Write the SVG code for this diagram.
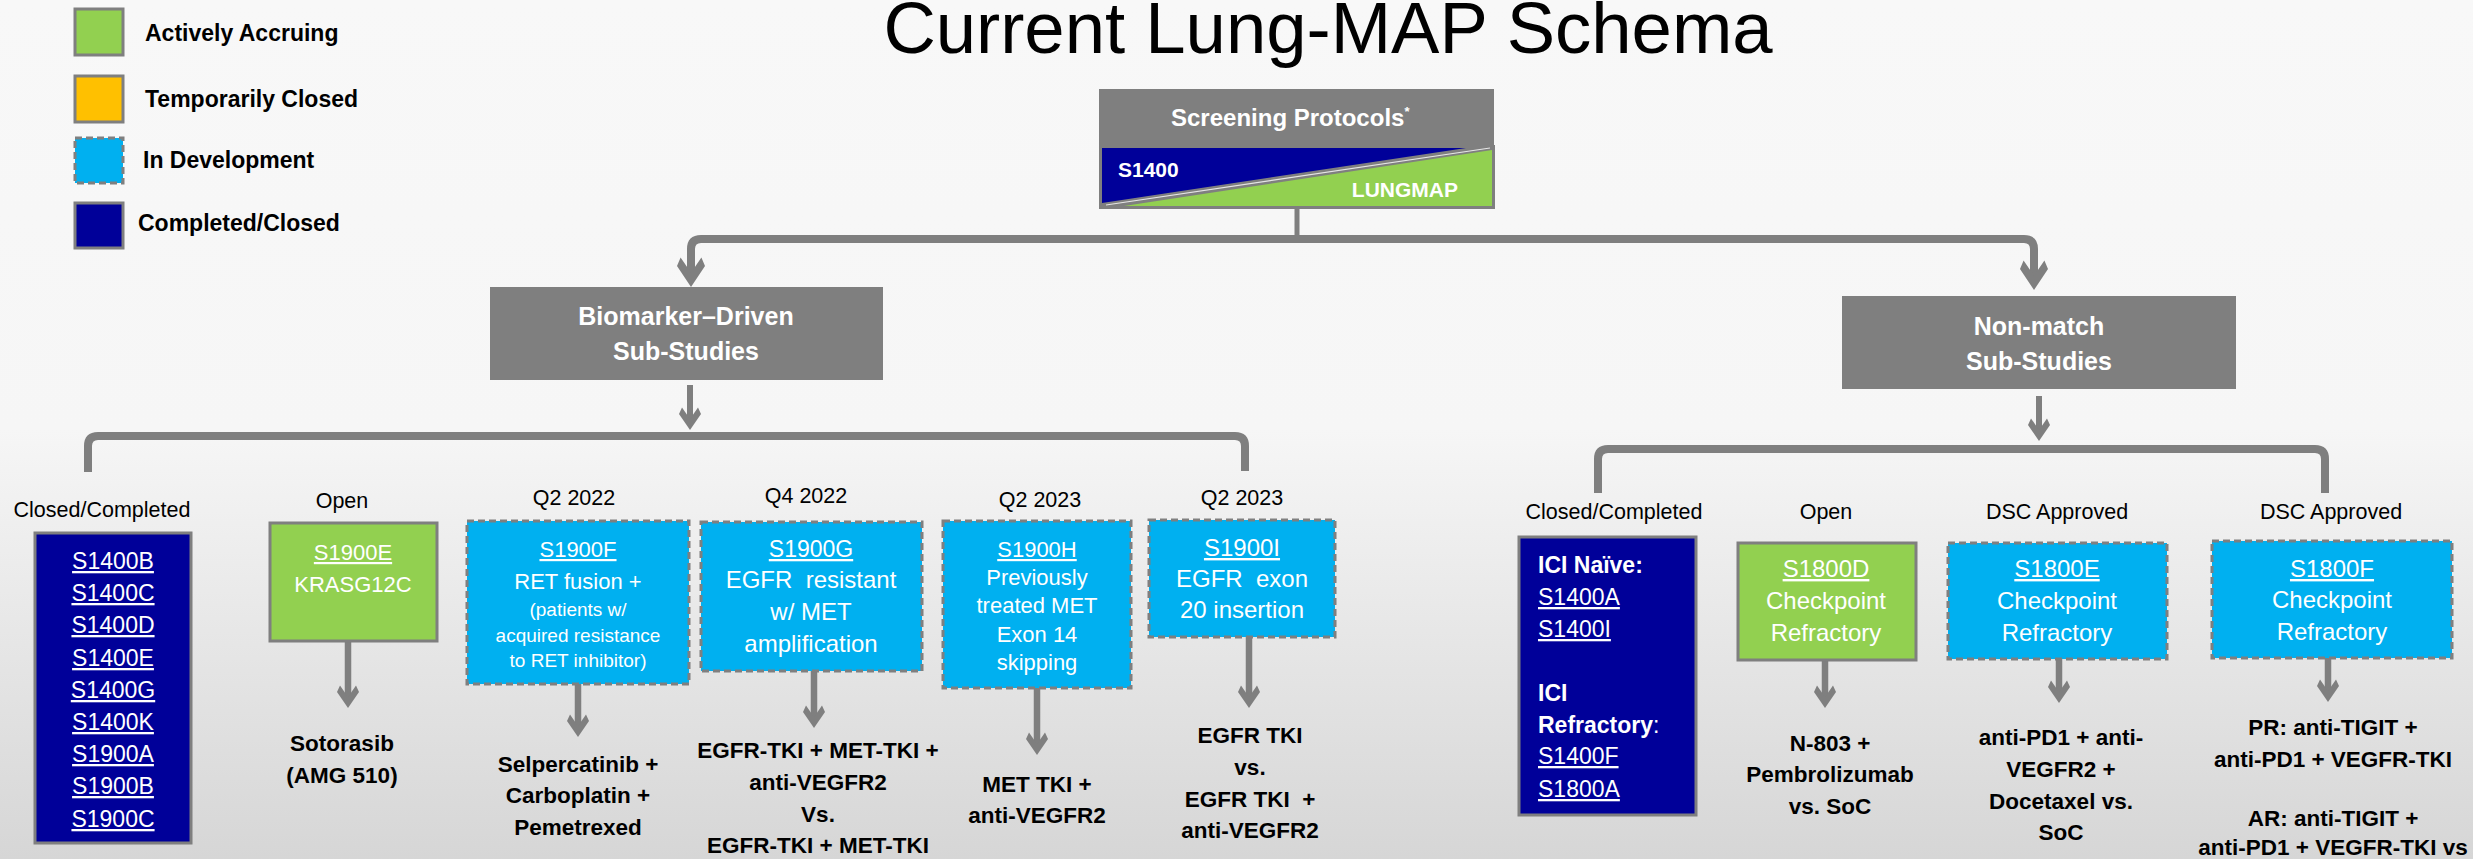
<svg xmlns="http://www.w3.org/2000/svg" width="2473" height="859" viewBox="0 0 2473 859">
<defs>
<linearGradient id="bg" x1="0" y1="0" x2="0" y2="1">
<stop offset="0" stop-color="#f8f8f8"/>
<stop offset="0.5" stop-color="#f6f6f6"/>
<stop offset="1" stop-color="#d6d6d6"/>
</linearGradient>
<marker id="ah" markerUnits="userSpaceOnUse" orient="auto" refX="0" refY="0" markerWidth="40" markerHeight="40" overflow="visible">
<path d="M10,0 L-6,-11 L-12.6,-8 L-1,0 L-12.6,8 L-6,11 Z" fill="#7f7f7f"/>
</marker>
<marker id="ahL" markerUnits="userSpaceOnUse" orient="auto" refX="0" refY="0" markerWidth="50" markerHeight="50" overflow="visible">
<path d="M13,0 L-8,-14 L-16.4,-10.4 L-1.3,0 L-16.4,10.4 L-8,14 Z" fill="#7f7f7f"/>
</marker>
</defs>
<style>
text{font-family:"Liberation Sans",Arial,sans-serif;}
.title{font-size:72.5px;fill:#000;text-anchor:middle;}
.leg{font-size:23px;font-weight:bold;fill:#000;}
.hdr{font-size:25px;font-weight:bold;fill:#fff;text-anchor:middle;}
.lbl{font-size:21.5px;fill:#000;text-anchor:middle;}
.bx{font-size:22px;fill:#fff;text-anchor:middle;}
.bx24{font-size:24px;fill:#fff;text-anchor:middle;}
.sm{font-size:19px;}
.lnk{text-decoration:underline;}
.res{font-size:22.5px;font-weight:bold;fill:#000;text-anchor:middle;}
.nv{font-size:23px;fill:#fff;}
.gray{fill:#7f7f7f;}
.green{fill:#92d050;stroke:#7f7f7f;stroke-width:3;}
.orange{fill:#ffc000;stroke:#7f7f7f;stroke-width:3;}
.blue{fill:#00b0f0;stroke:#7f7f7f;stroke-width:3;stroke-dasharray:7 4;}
.navy{fill:#000099;stroke:#7f7f7f;stroke-width:3;}
.br{fill:none;stroke:#7f7f7f;stroke-width:8;}
.ar{fill:none;stroke:#7f7f7f;stroke-width:6.5;marker-end:url(#ah);}
</style>
<rect x="0" y="0" width="2473" height="859" fill="url(#bg)"/>

<text class="title" x="1328" y="53">Current Lung-MAP Schema</text>

<g id="legend">
<rect class="green" x="75" y="9" width="48" height="46"/>
<text class="leg" x="145" y="41">Actively Accruing</text>
<rect class="orange" x="75" y="76" width="48" height="46"/>
<text class="leg" x="145" y="107">Temporarily Closed</text>
<rect class="blue" x="75" y="138" width="48" height="45"/>
<text class="leg" x="143" y="168">In Development</text>
<rect class="navy" x="75" y="203" width="48" height="45"/>
<text class="leg" x="138" y="231">Completed/Closed</text>
</g>

<g id="connectors">
<path d="M1297,208 L1297,239" fill="none" stroke="#7f7f7f" stroke-width="5"/>
<path class="br" d="M1297,239 L701,239 Q691,239 691,249 L691,274" marker-end="url(#ahL)"/>
<path class="br" d="M1297,239 L2024,239 Q2034,239 2034,249 L2034,277" marker-end="url(#ahL)"/>
<path d="M690,385 L690,420" fill="none" stroke="#7f7f7f" stroke-width="6" marker-end="url(#ah)"/>
<path d="M2039,396 L2039,431" fill="none" stroke="#7f7f7f" stroke-width="6" marker-end="url(#ah)"/>
<path class="br" d="M88,472 L88,446 Q88,436 98,436 L1235,436 Q1245,436 1245,446 L1245,471"/>
<path class="br" d="M1598,493 L1598,459 Q1598,449 1608,449 L2315,449 Q2325,449 2325,459 L2325,493"/>
<path class="ar" d="M348,641 L348,698"/>
<path class="ar" d="M578,684 L578,727"/>
<path class="ar" d="M814,671 L814,718"/>
<path class="ar" d="M1037,688 L1037,745"/>
<path class="ar" d="M1249,637 L1249,698"/>
<path class="ar" d="M1825,660 L1825,698"/>
<path class="ar" d="M2059,659 L2059,693"/>
<path class="ar" d="M2328,658 L2328,692"/>
</g>

<g id="screening">
<rect class="gray" x="1099" y="89" width="395" height="57"/>
<text x="1171" y="126" style="font-size:24px;font-weight:bold;fill:#fff;">Screening Protocols<tspan dy="-10" style="font-size:13px;">*</tspan></text>
<rect class="gray" x="1099" y="145" width="396" height="64"/>
<polygon points="1102,148 1466,148 1102,203" fill="#000099"/>
<polygon points="1492,150 1492,206 1124,206" fill="#92d050"/>
<line x1="1106" y1="205" x2="1490" y2="148" stroke="#ffffff" stroke-width="1.2" opacity="0.8"/>
<text x="1118" y="177" style="font-size:21px;font-weight:bold;fill:#fff;">S1400</text>
<text x="1458" y="197" style="font-size:21px;font-weight:bold;fill:#fff;text-anchor:end;">LUNGMAP</text>
</g>

<g id="biomarker">
<rect class="gray" x="490" y="287" width="393" height="93"/>
<text class="hdr" x="686" y="325">Biomarker–Driven</text>
<text class="hdr" x="686" y="360">Sub-Studies</text>
</g>

<g id="nonmatch">
<rect class="gray" x="1842" y="296" width="394" height="93"/>
<text class="hdr" x="2039" y="335">Non-match</text>
<text class="hdr" x="2039" y="370">Sub-Studies</text>
</g>

<g id="closed-biomarker">
<text class="lbl" x="102" y="517">Closed/Completed</text>
<rect class="navy" x="35" y="533" width="156" height="310"/>
<g class="nv lnk" style="text-anchor:middle;">
<text x="113" y="569">S1400B</text>
<text x="113" y="601">S1400C</text>
<text x="113" y="633">S1400D</text>
<text x="113" y="666">S1400E</text>
<text x="113" y="698">S1400G</text>
<text x="113" y="730">S1400K</text>
<text x="113" y="762">S1900A</text>
<text x="113" y="794">S1900B</text>
<text x="113" y="827">S1900C</text>
</g>
</g>

<g id="s1900e">
<text class="lbl" x="342" y="508">Open</text>
<rect class="green" x="270" y="523" width="167" height="118"/>
<text class="bx lnk" x="353" y="560">S1900E</text>
<text class="bx" x="353" y="592">KRASG12C</text>
<text class="res" x="342" y="751">Sotorasib</text>
<text class="res" x="342" y="783">(AMG 510)</text>
</g>

<g id="s1900f">
<text class="lbl" x="574" y="505">Q2 2022</text>
<rect class="blue" x="467" y="521" width="222" height="163"/>
<text class="bx lnk" x="578" y="557">S1900F</text>
<text class="bx" x="578" y="589">RET fusion +</text>
<text class="bx sm" x="578" y="616">(patients w/</text>
<text class="bx sm" x="578" y="642">acquired resistance</text>
<text class="bx sm" x="578" y="667">to RET inhibitor)</text>
<text class="res" x="578" y="772">Selpercatinib +</text>
<text class="res" x="578" y="803">Carboplatin +</text>
<text class="res" x="578" y="835">Pemetrexed</text>
</g>

<g id="s1900g">
<text class="lbl" x="806" y="503">Q4 2022</text>
<rect class="blue" x="701" y="522" width="221" height="149"/>
<text class="bx lnk" x="811" y="557" style="font-size:23px;">S1900G</text>
<text class="bx24" x="811" y="588" xml:space="preserve">EGFR  resistant</text>
<text class="bx24" x="811" y="620">w/ MET</text>
<text class="bx24" x="811" y="652">amplification</text>
<text class="res" x="818" y="758">EGFR-TKI + MET-TKI +</text>
<text class="res" x="818" y="790">anti-VEGFR2</text>
<text class="res" x="818" y="822">Vs.</text>
<text class="res" x="818" y="853">EGFR-TKI + MET-TKI</text>
</g>

<g id="s1900h">
<text class="lbl" x="1040" y="507">Q2 2023</text>
<rect class="blue" x="943" y="521" width="188" height="167"/>
<text class="bx lnk" x="1037" y="557">S1900H</text>
<text class="bx" x="1037" y="585">Previously</text>
<text class="bx" x="1037" y="613">treated MET</text>
<text class="bx" x="1037" y="642">Exon 14</text>
<text class="bx" x="1037" y="670">skipping</text>
<text class="res" x="1037" y="792">MET TKI +</text>
<text class="res" x="1037" y="823">anti-VEGFR2</text>
</g>

<g id="s1900i">
<text class="lbl" x="1242" y="505">Q2 2023</text>
<rect class="blue" x="1149" y="520" width="186" height="117"/>
<text class="bx24 lnk" x="1242" y="556">S1900I</text>
<text class="bx24" x="1242" y="587" xml:space="preserve">EGFR  exon</text>
<text class="bx24" x="1242" y="618">20 insertion</text>
<text class="res" x="1250" y="743">EGFR TKI</text>
<text class="res" x="1250" y="775">vs.</text>
<text class="res" x="1250" y="807" xml:space="preserve">EGFR TKI  +</text>
<text class="res" x="1250" y="838">anti-VEGFR2</text>
</g>

<g id="closed-nonmatch">
<text class="lbl" x="1614" y="519">Closed/Completed</text>
<rect class="navy" x="1519" y="537" width="177" height="278"/>
<text class="nv" x="1538" y="573" style="font-weight:bold;">ICI Naïve:</text>
<text class="nv lnk" x="1538" y="605">S1400A</text>
<text class="nv lnk" x="1538" y="637">S1400I</text>
<text class="nv" x="1538" y="701" style="font-weight:bold;">ICI</text>
<text class="nv" x="1538" y="733"><tspan style="font-weight:bold;">Refractory</tspan>:</text>
<text class="nv lnk" x="1538" y="764">S1400F</text>
<text class="nv lnk" x="1538" y="797">S1800A</text>
</g>

<g id="s1800d">
<text class="lbl" x="1826" y="519">Open</text>
<rect class="green" x="1738" y="543" width="178" height="117"/>
<text class="bx24 lnk" x="1826" y="577">S1800D</text>
<text class="bx24" x="1826" y="609">Checkpoint</text>
<text class="bx24" x="1826" y="641">Refractory</text>
<text class="res" x="1830" y="751">N-803 +</text>
<text class="res" x="1830" y="782">Pembrolizumab</text>
<text class="res" x="1830" y="814">vs. SoC</text>
</g>

<g id="s1800e">
<text class="lbl" x="2057" y="519">DSC Approved</text>
<rect class="blue" x="1948" y="543" width="219" height="116"/>
<text class="bx24 lnk" x="2057" y="577">S1800E</text>
<text class="bx24" x="2057" y="609">Checkpoint</text>
<text class="bx24" x="2057" y="641">Refractory</text>
<text class="res" x="2061" y="745">anti-PD1 + anti-</text>
<text class="res" x="2061" y="777">VEGFR2 +</text>
<text class="res" x="2061" y="809">Docetaxel vs.</text>
<text class="res" x="2061" y="840">SoC</text>
</g>

<g id="s1800f">
<text class="lbl" x="2331" y="519">DSC Approved</text>
<rect class="blue" x="2212" y="541" width="240" height="117"/>
<text class="bx24 lnk" x="2332" y="577">S1800F</text>
<text class="bx24" x="2332" y="608">Checkpoint</text>
<text class="bx24" x="2332" y="640">Refractory</text>
<text class="res" x="2333" y="735">PR: anti-TIGIT +</text>
<text class="res" x="2333" y="767">anti-PD1 + VEGFR-TKI</text>
<text class="res" x="2333" y="826">AR: anti-TIGIT +</text>
<text class="res" x="2333" y="855">anti-PD1 + VEGFR-TKI vs</text>
</g>
</svg>
